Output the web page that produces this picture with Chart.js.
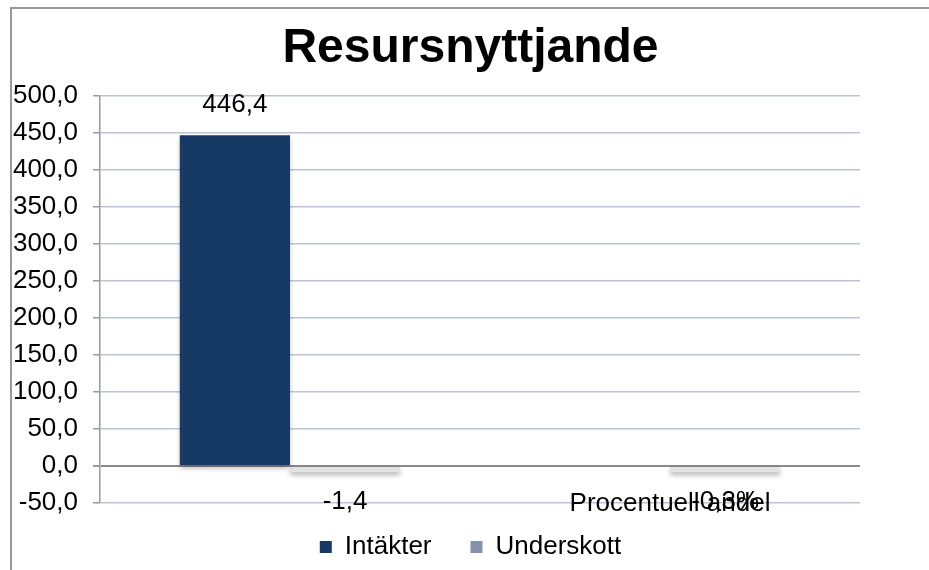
<!DOCTYPE html>
<html>
<head>
<meta charset="utf-8">
<script src="https://cdn.jsdelivr.net/npm/chart.js@4"></script>
<style>
  html, body { margin: 0; padding: 0; background: #fff; }
  #wrap { width: 929px; height: 570px; }
</style>
</head>
<body>
<div id="wrap"><canvas id="resursChart"></canvas></div>
<script>
// chart values
const categories = ["", "Procentuell andel"];
const intakter = [446.4, null];
const underskott = [-1.4, -0.3];
const labelSuffix = ["", "%"];
const yMin = -50;
const yMax = 500;
const yStep = 50;

const fontFamily = "'Liberation Sans', Arial, sans-serif";
const intakterColor = "#163a64";
const underskottColor = "#8891ab";

// swedish number format: comma as decimal mark
function fmt(v) {
  return v.toFixed(1).replace(".", ",");
}

// frame around the chart (top and left edges show in the reference)
const framePlugin = {
  id: "frame",
  beforeDraw(chart) {
    const ctx = chart.ctx;
    ctx.save();
    ctx.strokeStyle = "#9a9a9a";
    ctx.lineWidth = 2;
    ctx.beginPath();
    ctx.moveTo(11, chart.height);
    ctx.lineTo(11, 8);
    ctx.lineTo(chart.width, 8);
    ctx.stroke();
    ctx.restore();
  },
};

// soft shadow under the bars + value labels
const barLabelPlugin = {
  id: "barLabels",
  beforeDatasetsDraw(chart) {
    const ctx = chart.ctx;
    ctx.save();
    ctx.shadowColor = "rgba(0,0,0,0.3)";
    ctx.shadowBlur = 5;
    ctx.shadowOffsetX = 0;
    ctx.shadowOffsetY = 3;
  },
  afterDatasetsDraw(chart) {
    const ctx = chart.ctx;
    ctx.restore();
    ctx.save();
    ctx.font = "26px " + fontFamily;
    ctx.fillStyle = "#000";
    ctx.textAlign = "center";
    ctx.textBaseline = "middle";
    chart.data.datasets.forEach((ds, di) => {
      const meta = chart.getDatasetMeta(di);
      meta.data.forEach((bar, i) => {
        const v = ds.data[i];
        if (v === null || v === undefined) return;
        const text = fmt(v) + labelSuffix[i];
        const y = v >= 0 ? bar.y - 30 : bar.base + 35;
        ctx.fillText(text, bar.x, y);
      });
    });
    ctx.restore();
  },
};

const ctx = document.getElementById("resursChart").getContext("2d");
new Chart(ctx, {
  type: "bar",
  data: {
    labels: categories,
    datasets: [
      {
        label: "Intäkter",
        data: intakter,
        backgroundColor: intakterColor,
        borderWidth: 0,
        categoryPercentage: 0.58,
        barPercentage: 1.0,
      },
      {
        label: "Underskott",
        data: underskott,
        backgroundColor: "#e3e3e3",
        borderWidth: 0,
        minBarLength: 6,
        categoryPercentage: 0.58,
        barPercentage: 1.0,
      },
    ],
  },
  options: {
    responsive: true,
    maintainAspectRatio: false,
    animation: false,
    layout: {
      padding: { top: 8, left: 12, right: 0, bottom: -8 },
    },
    plugins: {
      title: {
        display: true,
        text: "Resursnyttjande",
        color: "#000",
        font: { family: fontFamily, size: 48, weight: "bold" },
        padding: { top: 12, bottom: 18 },
      },
      legend: {
        display: true,
        position: "bottom",
        labels: {
          color: "#000",
          font: { family: fontFamily, size: 26 },
          boxWidth: 12,
          boxHeight: 12,
          padding: 39,
          generateLabels(chart) {
            const items = Chart.defaults.plugins.legend.labels.generateLabels(chart);
            items.forEach((it) => {
              it.fillStyle = it.datasetIndex === 0 ? intakterColor : underskottColor;
              it.strokeStyle = it.fillStyle;
              it.lineWidth = 0;
            });
            return items;
          },
        },
      },
      tooltip: { enabled: false },
    },
    scales: {
      x: {
        grid: { display: false, drawTicks: false },
        border: { display: false },
        ticks: {
          color: "#000",
          font: { family: fontFamily, size: 26 },
          mirror: true,
          padding: -16,
        },
        afterFit(scale) {
          scale.height = -8;
        },
      },
      y: {
        min: yMin,
        max: yMax,
        ticks: {
          stepSize: yStep,
          color: "#000",
          font: { family: fontFamily, size: 26 },
          padding: 15,
          callback: (v) => fmt(v),
        },
        grid: {
          color: (c) => (c.tick && c.tick.value === 0 ? "#8a8a8a" : "#bcc3d8"),
          lineWidth: (c) => (c.tick && c.tick.value === 0 ? 2 : 1.5),
          tickColor: "#9a9a9a",
          tickLength: 7,
        },
        border: { color: "#9a9a9a", width: 1.5 },
        afterFit(scale) {
          scale.width = 88;
        },
      },
      // empty right-hand axis that only reserves the space right of the plot
      yRight: {
        position: "right",
        display: true,
        grid: { display: false },
        border: { display: false },
        ticks: { display: false },
        afterFit(scale) {
          scale.width = 69;
        },
      },
    },
  },
  plugins: [framePlugin, barLabelPlugin],
});
</script>
</body>
</html>
